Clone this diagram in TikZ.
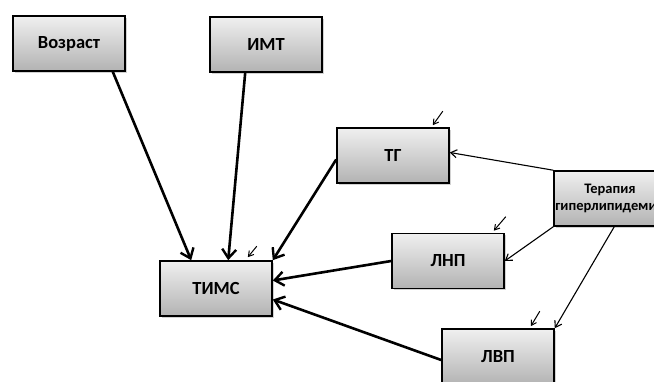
\documentclass[tikz,border=0pt]{standalone}
\usepackage{fontspec}
\setmainfont{Carlito}
\usetikzlibrary{shadows,arrows.meta,calc}
\begin{document}
\begin{tikzpicture}[x=1pt,y=-1pt,
  box/.style={draw=black,line width=1.6pt,top color=gray!12,bottom color=gray!60,
    minimum width=112pt,minimum height=55pt,inner sep=0pt,
    font=\fontsize{18.5}{20}\selectfont\bfseries,
    drop shadow={opacity=0.35,shadow xshift=2pt,shadow yshift=-2pt}},
  thick arrow/.style={line width=2.6pt,-{Straight Barb[length=9pt,width=14pt,line width=2.4pt]}},
  thin arrow/.style={line width=1.1pt,-{Straight Barb[length=6pt,width=8pt,line width=1.1pt]}},
  tick arrow/.style={line width=1pt,-{Straight Barb[length=5pt,width=6pt,line width=1pt]}}]
\clip (0,0) rectangle (654,382);
\fill[white] (0,0) rectangle (654,382);
\node[box] (vozrast) at (69,43.5) {Возраст\hspace{10pt}};
\node[box] (imt) at (266,44.5) {ИМТ};
\node[box] (tg) at (393,155.5) {ТГ};
\node[box,font=\fontsize{14.5}{17}\selectfont\bfseries,align=center] (ter) at (610,198.5) {Терапия\\гиперлипидемии};
\node[box] (lnp) at (448,261) {ЛНП};
\node[box,minimum height=56pt] (lvp) at (498,357) {ЛВП};
\node[box] (tims) at (216,288.5) {ТИМС};
% thick arrows to TIMS
\draw[thick arrow] ([xshift=-13pt]vozrast.south east) -- ([xshift=32pt]tims.north west);
\draw[thick arrow] ([xshift=36pt]imt.south west) -- ([xshift=69pt]tims.north west);
\draw[thick arrow] ([yshift=-4pt]tg.west) -- (tims.north east);
\draw[thick arrow] (lnp.west) -- ([yshift=8pt]tims.east);
\draw[thick arrow] ([yshift=-3pt]lvp.west) -- ([yshift=-11pt]tims.east);
% therapy arrows
\draw[thin arrow] (ter.north west) -- ([yshift=3pt]tg.east);
\draw[thin arrow] (ter.south west) -- (lnp.east);
\draw[thin arrow] ([xshift=61pt]ter.south west) -- (lvp.north east);
% small tick arrows
\draw[tick arrow] ([xshift=-7pt,yshift=16pt]tg.north east) -- ([xshift=-17pt,yshift=2pt]tg.north east);
\draw[tick arrow] ([xshift=1pt,yshift=16pt]lnp.north east) -- ([xshift=-11pt,yshift=2pt]lnp.north east);
\draw[tick arrow] ([xshift=-15pt,yshift=17pt]lvp.north east) -- ([xshift=-24pt,yshift=2pt]lvp.north east);
\draw[tick arrow] ([xshift=-16pt,yshift=14pt]tims.north east) -- ([xshift=-25pt,yshift=3pt]tims.north east);
\end{tikzpicture}
\end{document}
